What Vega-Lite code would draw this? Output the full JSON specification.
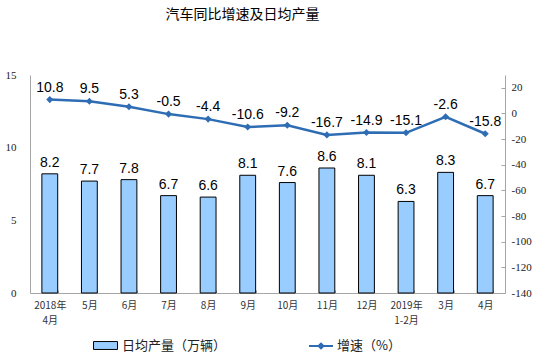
{
  "$schema": "https://vega.github.io/schema/vega-lite/v6.json",
  "width": 475,
  "height": 218,
  "autosize": {"type": "none"},
  "padding": {"left": 30, "top": 75, "right": 49, "bottom": 65},
  "background": "white",
  "config": {
    "view": {"stroke": null},
    "axis": {"grid": false, "domainColor": "#a6a6a6", "tickColor": "#a6a6a6", "labelColor": "#333333", "labelOverlap": false}
  },
  "title": {
    "text": "汽车同比增速及日均产量",
    "font": "Noto Sans CJK SC",
    "fontSize": 14,
    "fontWeight": "normal",
    "color": "#000000",
    "anchor": "middle",
    "dx": -25,
    "offset": 47
  },
  "data": {
    "values": [
      {"month": "2018年|4月", "output": 8.2, "growth": 10.8, "growthLabel": "10.8"},
      {"month": "5月", "output": 7.7, "growth": 9.5, "growthLabel": "9.5"},
      {"month": "6月", "output": 7.8, "growth": 5.3, "growthLabel": "5.3"},
      {"month": "7月", "output": 6.7, "growth": -0.5, "growthLabel": "-0.5"},
      {"month": "8月", "output": 6.6, "growth": -4.4, "growthLabel": "-4.4"},
      {"month": "9月", "output": 8.1, "growth": -10.6, "growthLabel": "-10.6"},
      {"month": "10月", "output": 7.6, "growth": -9.2, "growthLabel": "-9.2"},
      {"month": "11月", "output": 8.6, "growth": -16.7, "growthLabel": "-16.7"},
      {"month": "12月", "output": 8.1, "growth": -14.9, "growthLabel": "-14.9"},
      {"month": "2019年|1-2月", "output": 6.3, "growth": -15.1, "growthLabel": "-15.1"},
      {"month": "3月", "output": 8.3, "growth": -2.6, "growthLabel": "-2.6"},
      {"month": "4月", "output": 6.7, "growth": -15.8, "growthLabel": "-15.8"}
    ]
  },
  "encoding": {
    "x": {
      "field": "month",
      "type": "nominal",
      "sort": null,
      "scale": {"paddingInner": 0.6, "paddingOuter": 0.3},
      "axis": {
        "title": null,
        "labelAngle": 0,
        "labelExpr": "isValid(datum.value) ? split(datum.value, '|') : ''",
        "labelFont": "Noto Sans CJK SC",
        "labelFontSize": 10,
        "labelLineHeight": 15,
        "labelPadding": 10,
        "tickBand": "extent",
        "tickSize": -3,
        "labelBaseline": "top"
      }
    }
  },
  "layer": [
    {
      "encoding": {
        "y": {
          "field": "output",
          "type": "quantitative",
          "scale": {"domain": [0, 15], "nice": false},
          "axis": {
            "title": null,
            "values": [0, 5, 10, 15],
            "labelFont": "Liberation Serif",
            "labelFontSize": 11,
            "tickSize": 0,
            "labelPadding": 14,
            "labelColor": "#222222"
          }
        }
      },
      "layer": [
        {
          "mark": {"type": "bar", "stroke": "#000000", "strokeWidth": 1},
          "encoding": {
            "fill": {
              "datum": "日均产量（万辆）",
              "type": "nominal",
              "scale": {"range": ["#99ccff"]},
              "legend": {
                "title": null,
                "orient": "none",
                "legendX": 63,
                "legendY": 258,
                "symbolType": "M-1,-0.33H1V0.33H-1Z",
                "symbolSize": 576,
                "symbolStrokeColor": "#000000",
                "symbolStrokeWidth": 1,
                "symbolOpacity": 1,
                "labelFont": "Noto Sans CJK SC",
                "labelFontSize": 13,
                "labelColor": "#222222",
                "labelOffset": 4
              }
            }
          }
        },
        {
          "mark": {"type": "text", "font": "Liberation Sans", "fontSize": 14, "color": "#000000", "baseline": "bottom", "dy": -4},
          "encoding": {
            "text": {"field": "output", "type": "quantitative", "format": ".1f"}
          }
        }
      ]
    },
    {
      "encoding": {
        "y": {
          "field": "growth",
          "type": "quantitative",
          "scale": {"domain": [-140, 30], "nice": false},
          "axis": {
            "title": null,
            "orient": "right",
            "values": [-140, -120, -100, -80, -60, -40, -20, 0, 20],
            "labelExpr": "'' + datum.value",
            "labelOverlap": false,
            "labelFlush": false,
            "labelFont": "Liberation Serif",
            "labelFontSize": 11,
            "tickSize": -4,
            "labelPadding": 10,
            "labelColor": "#222222"
          }
        }
      },
      "layer": [
        {
          "mark": {"type": "line", "strokeWidth": 2.5},
          "encoding": {
            "stroke": {
              "datum": "增速（%）",
              "type": "nominal",
              "scale": {"range": ["#2e6db4"]},
              "legend": {
                "title": null,
                "orient": "none",
                "legendX": 278,
                "legendY": 258,
                "symbolType": "M-1,0H1M-0.2,0L0,-0.2L0.2,0L0,0.2Z",
                "symbolSize": 576,
                "symbolStrokeWidth": 2,
                "symbolFillColor": "#2e6db4",
                "labelFont": "Noto Sans CJK SC",
                "labelFontSize": 13,
                "labelColor": "#222222",
                "labelOffset": 3
              }
            }
          }
        },
        {
          "mark": {"type": "point", "shape": "diamond", "filled": true, "size": 50, "color": "#2e6db4", "opacity": 1}
        },
        {
          "mark": {"type": "text", "font": "Liberation Sans", "fontSize": 14, "color": "#000000", "baseline": "bottom", "dy": -5},
          "encoding": {
            "text": {"field": "growthLabel", "type": "nominal"}
          }
        }
      ]
    }
  ],
  "resolve": {"scale": {"y": "independent"}}
}
